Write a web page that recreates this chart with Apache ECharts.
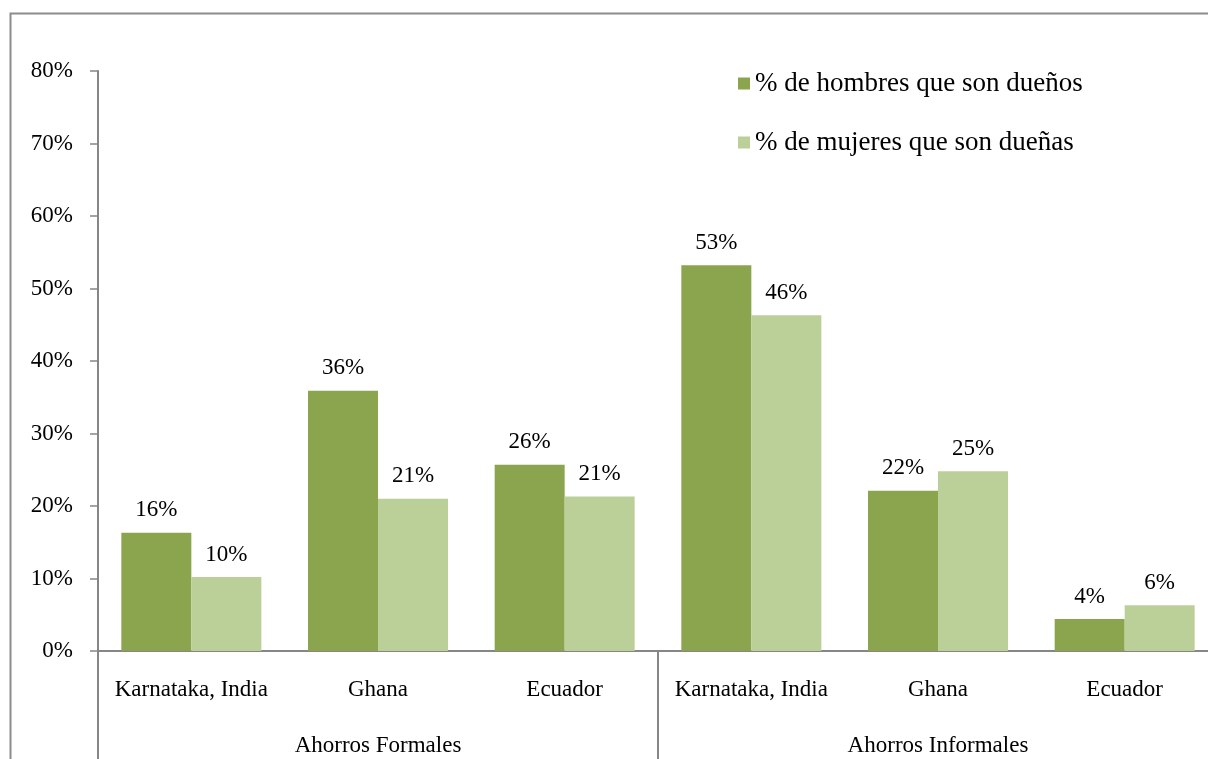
<!DOCTYPE html>
<html>
<head>
<meta charset="utf-8">
<script src="https://cdn.jsdelivr.net/npm/echarts@6/dist/echarts.min.js"></script>
<style>html,body{margin:0;padding:0;background:#fff}#c{width:1208px;height:759px}</style>
</head>
<body>
<div id="c"></div>
<script>
const categories = ['Karnataka, India', 'Ghana', 'Ecuador', 'Karnataka, India', 'Ghana', 'Ecuador'];
const groups = ['Ahorros Formales', 'Ahorros Informales'];
const seriesNames = ['% de hombres que son dueños', '% de mujeres que son dueñas'];
const menValues = [16.3, 35.9, 25.7, 53.2, 22.1, 4.4];
const womenValues = [10.2, 21.0, 21.3, 46.3, 24.8, 6.3];
const yTicks = [0, 10, 20, 30, 40, 50, 60, 70, 80];

const FONT = 'Liberation Serif';
const FS = 23;
const chart = echarts.init(document.getElementById('c'));
const labelCfg = {
  show: true, position: 'top', distance: 11,
  fontFamily: FONT, fontSize: FS, color: '#000',
  formatter: p => Math.round(p.value) + '%'
};
chart.setOption({
  animation: false,
  textStyle: { fontFamily: FONT },
  graphic: [{
    type: 'rect', left: 8, top: 11, silent: true,
    shape: { width: 1300, height: 900 },
    style: { fill: 'none', stroke: '#8c8c8c', lineWidth: 2 }
  }],
  legend: {
    orient: 'vertical', left: 733, top: 65,
    itemWidth: 12, itemHeight: 12, itemGap: 32,
    icon: 'rect',
    textStyle: { fontFamily: FONT, fontSize: 27, color: '#000' },
    data: seriesNames
  },
  grid: { left: 98, width: 1120, top: 71, bottom: 108, containLabel: false, outerBoundsMode: 'none' },
  xAxis: [{
    type: 'category', data: categories,
    axisLine: { show: true, lineStyle: { color: '#868686', width: 2 } },
    axisTick: { show: false },
    axisLabel: { fontFamily: FONT, fontSize: FS, color: '#000', margin: 27, interval: 0 }
  }, {
    type: 'category', data: groups, position: 'bottom',
    axisLine: { show: false },
    axisTick: { show: true, length: 120, lineStyle: { color: '#868686', width: 2 } },
    axisLabel: { fontFamily: FONT, fontSize: FS, color: '#000', margin: 83, interval: 0 }
  }],
  yAxis: {
    type: 'value', min: 0, max: 80, interval: 10,
    axisLine: { show: true, lineStyle: { color: '#868686', width: 2 } },
    axisTick: { show: true, length: 8, lineStyle: { color: '#868686', width: 1.5 } },
    splitLine: { show: false },
    axisLabel: {
      fontFamily: FONT, fontSize: FS, color: '#000', margin: 25,
      formatter: v => yTicks.includes(v) ? v + '%' : ''
    }
  },
  series: [{
    name: seriesNames[0], type: 'bar', data: menValues,
    barGap: '0%', barCategoryGap: '25%',
    itemStyle: { color: '#8ba54e' }, label: labelCfg
  }, {
    name: seriesNames[1], type: 'bar', data: womenValues,
    barGap: '0%', barCategoryGap: '25%',
    itemStyle: { color: '#bbcf98' }, label: labelCfg
  }]
});
</script>
</body>
</html>
